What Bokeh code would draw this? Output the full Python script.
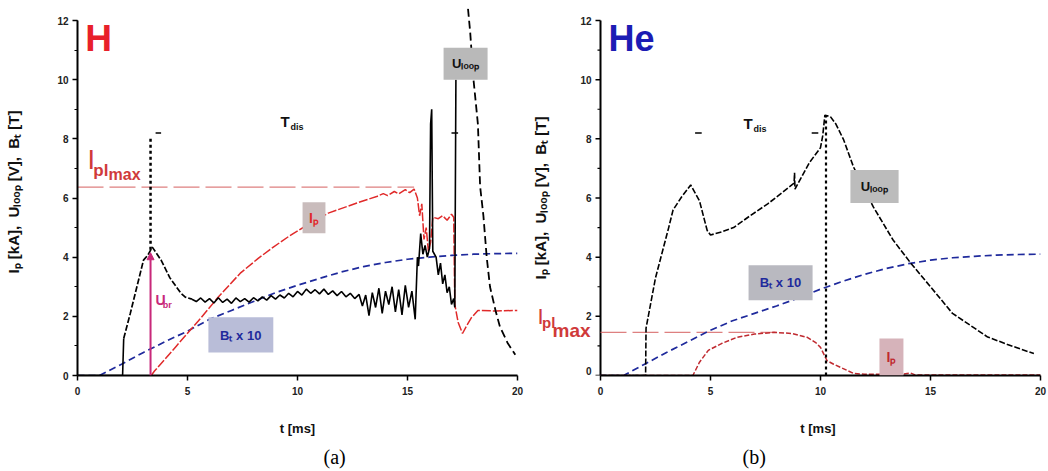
import numpy as np
from bokeh.plotting import figure
from bokeh.layouts import row
from bokeh.models import (Label, BoxAnnotation, Arrow, NormalHead, Title,
                          SingleIntervalTicker, Range1d)
from bokeh.core.properties import value
from bokeh.embed import file_html
from bokeh.resources import INLINE

# ---------------- data: panel (a)  H ----------------
ua_t = [0.0, 2.05, 2.1, 2.4, 2.7, 3.0, 3.2, 3.4, 3.8, 4.2, 4.7, 4.9, 5.2,
        5.4, 5.6, 5.8, 6.0, 6.2, 6.4, 6.6, 6.8, 7.0, 7.2, 7.4, 7.6, 7.8, 8.0, 8.2, 8.4, 8.6, 8.8,
        9.0, 9.2, 9.4, 9.6, 9.8, 10.0, 10.2, 10.4, 10.6, 10.8, 11.0, 11.2, 11.4, 11.6, 11.8, 12.0,
        12.2, 12.4, 12.6,
        12.8, 12.95, 13.1, 13.25, 13.4, 13.55, 13.7, 13.85, 14.0, 14.15, 14.3, 14.45, 14.6, 14.75,
        14.9, 15.05, 15.2, 15.35,
        15.45, 15.5, 15.6, 15.7, 15.8, 15.9, 16.0, 16.05, 16.1, 16.15, 16.3, 16.4, 16.5, 16.6,
        16.7, 16.8, 16.9, 17.0, 17.1, 17.15, 17.2]
ua_v = [0.0, 0.0, 1.25, 2.1, 3.0, 3.9, 4.07, 4.34, 3.9, 3.3, 2.78, 2.65, 2.58,
        2.50, 2.62, 2.48, 2.60, 2.45, 2.63, 2.47, 2.58, 2.44, 2.62, 2.50, 2.60, 2.48, 2.63, 2.52,
        2.66, 2.55, 2.70, 2.58, 2.72, 2.62, 2.78, 2.66, 2.84, 2.72, 2.92, 2.78, 2.90, 2.76, 2.92,
        2.74, 2.86, 2.70, 2.84, 2.66, 2.78, 2.60,
        2.74, 2.35, 2.72, 2.02, 2.80, 2.30, 2.95, 2.10, 2.85, 2.40, 3.00, 2.15, 2.90, 2.05,
        3.05, 2.30, 2.85, 1.90,
        4.0, 3.7, 4.8, 4.1, 4.4, 4.0, 4.3, 8.5, 9.0, 4.2, 4.0, 3.4, 3.8, 3.1,
        3.4, 2.8, 3.0, 2.4, 2.6, 2.3, 10.0]
ua_tail_t = [17.7, 17.85, 18.0, 18.2, 18.3, 18.45, 18.6, 18.75, 19.0, 19.2, 19.55, 19.9]
ua_tail_v = [12.8, 11.6, 10.0, 8.5, 6.4, 5.4, 4.0, 3.0, 2.2, 1.65, 1.1, 0.7]

ipa_t = [3.35, 3.5, 4.5, 5.5, 6.4, 7.4, 8.2, 8.9, 9.6, 10.3, 11.4, 12.7, 13.3, 13.6, 13.9,
         14.1, 14.4, 14.6, 14.9, 15.1, 15.3, 15.45, 15.55, 15.65, 15.75, 15.85, 15.95, 16.05,
         16.15, 16.4, 16.6, 16.8, 17.0, 17.1, 17.15, 17.3, 17.5, 17.7, 17.9, 18.2, 19.0, 20.0]
ipa_v = [0.0, 0.15, 1.0, 1.85, 2.65, 3.46, 3.95, 4.34, 4.7, 5.02, 5.49, 5.83, 5.98, 6.05, 6.15,
         6.08, 6.22, 6.14, 6.28, 6.18, 6.3, 6.0, 5.4, 5.8, 4.6, 5.0, 4.2, 4.5,
         5.35, 5.3, 5.4, 5.25, 5.45, 5.35, 2.4, 1.8, 1.42, 1.7, 1.95, 2.2, 2.18, 2.2]

bta_t = [0.0, 1.0, 2.0, 3.0, 4.0, 5.0, 6.0, 7.0, 8.0, 9.0, 10.0, 11.0, 12.0, 13.0, 14.0, 15.0,
         16.0, 17.0, 18.0, 19.0, 20.0]
bta_v = [0.0, 0.0, 0.38, 0.78, 1.15, 1.5, 1.9, 2.2, 2.5, 2.8, 3.05, 3.28, 3.5, 3.68, 3.82, 3.93,
         4.0, 4.06, 4.1, 4.12, 4.13]

t_breakdown_a = 3.32
u_breakdown_a = 4.25
tdis_top_a = 8.1
ipl_max_a = 6.37
ipl_max_end_a = 15.3
tdis_marks_a = [(3.55, 3.8), (17.0, 17.3)]
tdis_level = 8.2

# ---------------- data: panel (b)  He ----------------
ub_t = [0.0, 2.05, 2.07, 2.5, 3.1, 3.3, 3.7, 4.1, 4.5, 4.85, 5.0, 5.5, 6.05, 6.8, 7.6, 8.2,
        8.8, 8.82, 8.84, 9.5, 10.0, 10.1, 10.2, 10.45, 10.7, 11.05, 11.5, 12.0, 12.4, 13.3, 14.1,
        15.0, 16.0, 17.0, 17.6, 18.5, 19.7]
ub_v = [0.0, 0.0, 1.6, 3.3, 5.0, 5.6, 6.05, 6.44, 5.9, 4.9, 4.75, 4.85, 5.0, 5.4, 5.8, 6.15,
        6.5, 6.85, 6.3, 7.2, 7.7, 8.1, 8.8, 8.75, 8.5, 7.97, 7.05, 6.3, 5.7, 4.58, 3.8,
        3.0, 2.1, 1.6, 1.3, 1.05, 0.74]

ipb_t = [0.0, 4.2, 4.5, 4.9, 5.5, 6.2, 7.0, 7.9, 8.7, 9.4, 9.8, 10.0, 10.3, 10.6, 10.9, 11.5,
         12.0, 13.0, 13.5, 14.1, 14.3, 20.0]
ipb_v = [0.0, 0.0, 0.45, 0.85, 1.08, 1.29, 1.4, 1.46, 1.42, 1.29, 1.1, 0.95, 0.5, 0.38, 0.28,
         0.07, 0.04, 0.04, 0.03, 0.08, 0.02, 0.02]

btb_t = [0.0, 1.05, 2.05, 3.0, 4.0, 5.0, 6.0, 7.0, 8.0, 9.0, 10.0, 11.0, 12.0, 13.0, 14.0, 15.0,
         16.0, 17.0, 18.0, 19.0, 20.0]
btb_v = [0.0, 0.0, 0.4, 0.78, 1.15, 1.53, 1.85, 2.1, 2.35, 2.62, 2.92, 3.18, 3.42, 3.62, 3.78,
         3.9, 3.98, 4.03, 4.07, 4.09, 4.1]

t_end_b = 10.25
tdis_top_b = 8.8
ipl_max_b = 1.46
ipl_max_end_b = 7.9
tdis_marks_b = [(4.3, 4.6), (9.6, 9.9)]

x_ticks_step = 5
y_ticks_step = 2
y_max = 12
t_max = 20

# ---------------- styling helpers ----------------
FONT = "Liberation Sans"
RED = "#e02a2a"
RED_B = "#c02a30"
BLUE = "#1f2a9c"
MAGENTA = "#c8287a"
NB = "\u00a0"
YLABEL = ("I\u209a" + NB + "[kA]," + NB + NB + "U\u2097\u2092\u2092\u209a" + NB + "[V],"
          + NB + NB + "B\u209c" + NB + "[T]")
PLOT_H = 355                 # pixels between y = 0 and y = 12
PX_PER_UNIT = PLOT_H / y_max
TOP_PAD = 12                 # extra frame room above y = 12 (keeps the "12" label unclipped)
FRAME_H = PLOT_H + TOP_PAD
Y_TOP = y_max + TOP_PAD / PX_PER_UNIT


def make_fig(frame_w, left_b, right_b, x_start, xlabel):
    p = figure(frame_width=frame_w, frame_height=FRAME_H,
               x_range=Range1d(x_start, t_max), y_range=Range1d(0, Y_TOP),
               output_backend="svg", toolbar_location=None,
               min_border_left=left_b, min_border_right=right_b,
               min_border_top=20 - TOP_PAD, min_border_bottom=84)
    p.outline_line_color = None
    p.grid.visible = False
    p.background_fill_color = "white"
    p.border_fill_color = "white"
    p.xaxis.ticker = SingleIntervalTicker(interval=x_ticks_step, num_minor_ticks=0)
    p.yaxis.ticker = SingleIntervalTicker(interval=y_ticks_step, num_minor_ticks=2)
    p.xaxis.bounds = (0, t_max)
    p.yaxis.bounds = (0, y_max)
    for ax in (p.xaxis[0], p.yaxis[0]):
        ax.axis_line_width = 2
        ax.axis_line_color = "black"
        ax.major_tick_line_width = 1.5
        ax.minor_tick_line_width = 1.2
        ax.major_tick_out = 5
        ax.major_tick_in = 0
        ax.minor_tick_out = 3
        ax.minor_tick_in = 0
        ax.major_label_text_font = FONT
        ax.major_label_text_font_style = "bold"
        ax.major_label_text_font_size = "10px"
        ax.major_label_text_color = "#222222"
        ax.axis_label_text_font = FONT
        ax.axis_label_text_font_style = "bold"
        ax.axis_label_text_color = "#111111"
    p.xaxis.major_label_standoff = 6
    p.yaxis.major_label_standoff = 4
    p.xaxis.axis_label = xlabel
    p.xaxis.axis_label_text_font_size = "13px"
    p.xaxis.axis_label_standoff = 23
    p.yaxis.axis_label = YLABEL
    p.yaxis.axis_label_text_font_size = "15px"
    p.yaxis.axis_label_standoff = 32
    return p


def lab(p, x, y, text, size, color, style="bold", align="left", font=FONT, angle=0.0):
    p.add_layout(Label(x=x, y=y, text=text, text_font=font, text_font_size=size,
                       text_font_style=style, text_color=color, text_align=align,
                       text_baseline="middle", angle=angle))


def box(p, l, r, b, t, color):
    p.add_layout(BoxAnnotation(left=l, right=r, bottom=b, top=t, fill_color=color,
                               fill_alpha=1.0, line_color=None))


def panel_title(p, text, offset):
    p.add_layout(Title(text=text, align="left", offset=offset, text_font="Liberation Serif",
                       text_font_size="20px", text_font_style="normal",
                       text_color="black"), "below")


# ================= panel (a) =================
pa = make_fig(440, 77, 11, 0, "t [ms]")

ta = np.array(ua_t)
va = np.array(ua_v)
rise = (ta >= 2.1) & (ta <= 5.2)
pre = ta <= 2.1
post = ta >= 5.2

pa.line([0, ipl_max_end_a], [ipl_max_a, ipl_max_a], line_color="#d86a6a", line_width=1.3,
        line_dash="26 6", line_alpha=0.85)
pa.line(bta_t, bta_v, line_color=BLUE, line_width=1.7, line_dash="7 4")
pa.line(ipa_t, ipa_v, line_color=RED, line_width=1.5, line_dash="9 2")
pa.line(ta[pre], va[pre], line_color="black", line_width=1.6)
pa.line(ta[rise], va[rise], line_color="black", line_width=1.7, line_dash="6 2")
pa.line(ta[post], va[post], line_color="black", line_width=1.6)
pa.line(ua_tail_t, ua_tail_v, line_color="black", line_width=1.8, line_dash="8 4")
pa.line([t_breakdown_a, t_breakdown_a], [u_breakdown_a, tdis_top_a], line_color="black",
        line_width=2.5, line_dash="3 3")
pa.add_layout(Arrow(end=NormalHead(size=7, fill_color=MAGENTA, line_color=MAGENTA),
                    x_start=t_breakdown_a, y_start=0, x_end=t_breakdown_a,
                    y_end=u_breakdown_a - 0.1, line_color=MAGENTA, line_width=2))
pa.segment([m[0] for m in tdis_marks_a], [tdis_level] * 2, [m[1] for m in tdis_marks_a],
           [tdis_level] * 2, line_color="black", line_width=1.5)

box(pa, 16.64, 18.64, 10.0, 11.08, "#b9b9b9")
lab(pa, 17.64, 10.54, "U\u2097\u2092\u2092\u209a", "13px", "#111111", align="center")
box(pa, 10.23, 11.27, 4.81, 5.86, "#c9bcbc")
lab(pa, 10.75, 5.33, "I\u209a", "14px", RED, align="center")
box(pa, 5.95, 8.9, 0.78, 1.97, "#b9bdd8")
lab(pa, 7.42, 1.36, "B\u209c x 10", "13px", BLUE, align="center")

lab(pa, 0.35, 11.38, "H", "37px", "#e8202a")
lab(pa, 0.45, 7.27, "I", "27px", "#d03a3a", style="normal")
lab(pa, 0.72, 6.93, "pl", "17px", "#d03a3a")
lab(pa, 1.41, 6.78, "max", "16px", "#d03a3a")
lab(pa, 9.23, 8.59, "T", "15px", "#111111")
lab(pa, 9.68, 8.39, "dis", "9px", "#111111")
lab(pa, 3.55, 2.54, "U", "14px", MAGENTA)
lab(pa, 3.88, 2.40, "br", "9px", MAGENTA)
panel_title(pa, "(a)", 246)

# ================= panel (b) =================
# the frame starts left of t=0 so that the labels left of the axis stay visible;
# the vertical axis is drawn at t=0 through the plot's own scales.
px_per_ms = 22.0
FRAME_WB = 510
xb_start = t_max - FRAME_WB / px_per_ms
# x label centred under t = 0..20 rather than under the widened frame
xlabel_b = NB * 18 + "t [ms]"
pb = make_fig(FRAME_WB, 2, 8, xb_start, xlabel_b)
pb.yaxis.visible = False

yt_major = list(range(0, y_max + 1, y_ticks_step))
yt_minor = list(range(1, y_max, y_ticks_step))
yt_label_y = [v if v > 0 else v + 5 / PX_PER_UNIT for v in yt_major]
pb.line([0, 0], [0, y_max], line_color="black", line_width=2)
pb.segment([0] * len(yt_major), yt_major, [-5 / px_per_ms] * len(yt_major), yt_major,
           line_color="black", line_width=1.5)
pb.segment([0] * len(yt_minor), yt_minor, [-3 / px_per_ms] * len(yt_minor), yt_minor,
           line_color="black", line_width=1.2)
pb.text([-9 / px_per_ms] * len(yt_major), yt_label_y, text=[str(v) for v in yt_major],
        text_font=value(FONT), text_font_size="10px", text_font_style="bold",
        text_color="#222222", text_align="right", text_baseline="middle")
lab(pb, -2.73, y_max / 2, YLABEL, "15px", "#111111", align="center", angle=np.pi / 2)

pb.line([0, ipl_max_end_b], [ipl_max_b, ipl_max_b], line_color="#d86a6a", line_width=1.3,
        line_dash="26 6", line_alpha=0.85)
pb.line(btb_t, btb_v, line_color=BLUE, line_width=1.7, line_dash="7 4")
pb.line(ipb_t, ipb_v, line_color=RED_B, line_width=1.5, line_dash="5 2")
pb.line(ub_t, ub_v, line_color="black", line_width=1.6, line_dash="6 2")
pb.line([t_end_b, t_end_b], [0, tdis_top_b], line_color="black", line_width=2.2,
        line_dash="3 3")
pb.segment([m[0] for m in tdis_marks_b], [tdis_level] * 2, [m[1] for m in tdis_marks_b],
           [tdis_level] * 2, line_color="black", line_width=1.5)

box(pb, 11.36, 13.55, 5.83, 6.95, "#bcbcbc")
lab(pb, 12.45, 6.39, "U\u2097\u2092\u2092\u209a", "13px", "#111111", align="center")
box(pb, 6.73, 9.64, 2.54, 3.73, "#b9b9c0")
lab(pb, 8.18, 3.13, "B\u209c x 10", "13px", BLUE, align="center")
box(pb, 12.68, 13.77, 0.0, 1.25, "#d6b3ba")
lab(pb, 13.22, 0.62, "I\u209a", "14px", RED_B, align="center")

lab(pb, 0.36, 11.38, "He", "36px", "#1c1cb4")
lab(pb, -2.86, 2.01, "I", "22px", "#d03a3a", style="normal")
lab(pb, -2.66, 1.80, "pl", "15px", "#d03a3a")
lab(pb, -2.18, 1.51, "max", "19px", "#d03a3a")
lab(pb, 6.5, 8.52, "T", "15px", "#111111")
lab(pb, 6.95, 8.33, "dis", "9px", "#111111")
panel_title(pb, "(b)", 212)

layout = row(pa, pb)
open("out.html", "w").write(file_html(layout, INLINE))
